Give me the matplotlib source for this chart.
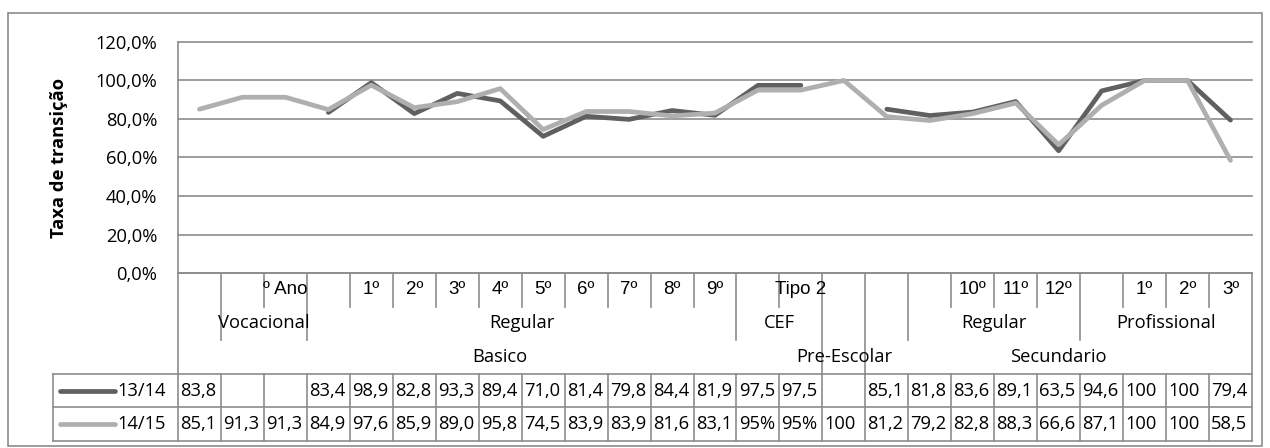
import numpy as np
import matplotlib
matplotlib.use("Agg")
import matplotlib.pyplot as plt
from matplotlib.ticker import MultipleLocator, FuncFormatter
from matplotlib.patches import Rectangle

plt.rcParams['font.family'] = ['Open Sans', 'DejaVu Sans']

# ---- dados: taxa de transição por ano/curso ----
series_names = ['13/14', '14/15']
s1314 = [83.8, np.nan, np.nan, 83.4, 98.9, 82.8, 93.3, 89.4, 71.0, 81.4, 79.8, 84.4,
         81.9, 97.5, 97.5, np.nan, 85.1, 81.8, 83.6, 89.1, 63.5, 94.6, 100, 100, 79.4]
s1415 = [85.1, 91.3, 91.3, 84.9, 97.6, 85.9, 89.0, 95.8, 74.5, 83.9, 83.9, 81.6,
         83.1, 95, 95, 100, 81.2, 79.2, 82.8, 88.3, 66.6, 87.1, 100, 100, 58.5]
# células do quadro que aparecem em percentagem
pct_cells = {(1, 13), (1, 14)}

# eixo de categorias em três níveis
lvl1 = ['', '', 'º Ano', '', '1º', '2º', '3º', '4º', '5º', '6º', '7º', '8º', '9º',
        '', 'Tipo 2', '', '', '', '10º', '11º', '12º', '', '1º', '2º', '3º']
lvl2 = [('', 0, 1), ('Vocacional', 1, 3), ('Regular', 3, 13), ('CEF', 13, 15),
        ('', 15, 16), ('', 16, 17), ('Regular', 17, 21), ('Profissional', 21, 25)]
lvl3 = [('Basico', 0, 15), ('Pre-Escolar', 15, 16), ('Secundario', 16, 25)]

# ---- estilo ----
W, H = 1270, 448
line_c = '#8c8c8c'
dark = '#606060'
light = '#afafaf'
fs = 13.2
lw_frame = 1.2

def fx(px):
    return px / W

def fy(py):
    return 1 - py / H

n = len(lvl1)
x = np.arange(n) + 0.5

fig = plt.figure(figsize=(W / 100, H / 100), dpi=100)
fig.patches.append(Rectangle((fx(8), fy(446)), fx(1262) - fx(8), fy(13) - fy(446),
                             transform=fig.transFigure, fill=False, ec=line_c, lw=lw_frame))

# área do gráfico
ax = fig.add_axes([fx(178), fy(273), fx(1252) - fx(178), fy(42) - fy(273)])
ax.set_xlim(0, n)
ax.set_ylim(0, 1.2)
ax.yaxis.set_major_locator(MultipleLocator(0.2))
ax.yaxis.set_major_formatter(FuncFormatter(lambda v, p: f"{v * 100:.1f}%".replace('.', ',')))
ax.grid(axis='y', color=line_c, lw=lw_frame)
for gl in ax.get_ygridlines():
    gl.set_clip_on(False)
ax.set_axisbelow(True)
for s in ['top', 'right']:
    ax.spines[s].set_visible(False)
for s in ['left', 'bottom']:
    ax.spines[s].set_color(line_c)
    ax.spines[s].set_linewidth(lw_frame)
ax.set_xticks([])
ax.tick_params(axis='y', length=0, pad=15, labelsize=fs)
ax.set_ylabel('Taxa de transição', fontsize=fs, fontweight='bold', labelpad=20)

ax.plot(x, np.array(s1314) / 100, color=dark, lw=3.4, solid_capstyle='round',
        solid_joinstyle='round', clip_on=False, zorder=3)
ax.plot(x, np.array(s1415) / 100, color=light, lw=3.4, solid_capstyle='round',
        solid_joinstyle='round', clip_on=False, zorder=4)

# eixo de categorias + quadro de dados
col_w = (1252 - 178) / n
x_left = -(178 - 53) / col_w
tab = fig.add_axes([fx(53), fy(441), fx(1252) - fx(53), fy(273) - fy(441)])
tab.set_xlim(x_left, n)
tab.set_ylim(5, 0)
tab.axis('off')

kw = dict(color=line_c, lw=lw_frame, clip_on=False)
starts3 = {a for _, a, _ in lvl3}
starts2 = {a for _, a, _ in lvl2}
for k in range(1, n):
    depth = 3 if k in starts3 else (2 if k in starts2 else 1)
    tab.plot([k, k], [0, depth], **kw)
tab.plot([0, 0], [0, 5], **kw)
tab.plot([n, n], [0, 5], **kw)
for r in (3, 4, 5):
    tab.plot([x_left, n], [r, r], **kw)
tab.plot([x_left, x_left], [3, 5], **kw)
for k in range(1, n):
    tab.plot([k, k], [3, 5], **kw)

# o "º" sublinhado vem da Liberation Sans
for i, lab in enumerate(lvl1):
    if lab:
        tab.text(x[i], 0.5, lab, ha='center', va='center', fontsize=fs + 0.3,
                 family=['Liberation Sans', 'DejaVu Sans'])
for lab, a, b in lvl2:
    if lab:
        tab.text((a + b) / 2, 1.5, lab, ha='center', va='center', fontsize=fs)
for lab, a, b in lvl3:
    tab.text((a + b) / 2, 2.5, lab, ha='center', va='center', fontsize=fs)

def fmt(v, cell):
    if np.isnan(v):
        return ''
    if cell in pct_cells:
        return f"{v:.0f}%"
    if v == 100:
        return "100"
    return f"{v:.1f}".replace('.', ',')

key_x0 = x_left + (60 - 53) / col_w
key_x1 = x_left + (115 - 53) / col_w
for r, (name, vals, c) in enumerate(zip(series_names, [s1314, s1415], [dark, light])):
    yc = 3.5 + r
    tab.plot([key_x0, key_x1], [yc, yc], color=c, lw=3.4, solid_capstyle='round', clip_on=False)
    tab.text(key_x1 + 0.05, yc, name, ha='left', va='center', fontsize=fs)
    for i, v in enumerate(vals):
        tab.text(i + 0.05, yc, fmt(v, (r, i)), ha='left', va='center', fontsize=fs)

fig.savefig('out.png', dpi=100)
